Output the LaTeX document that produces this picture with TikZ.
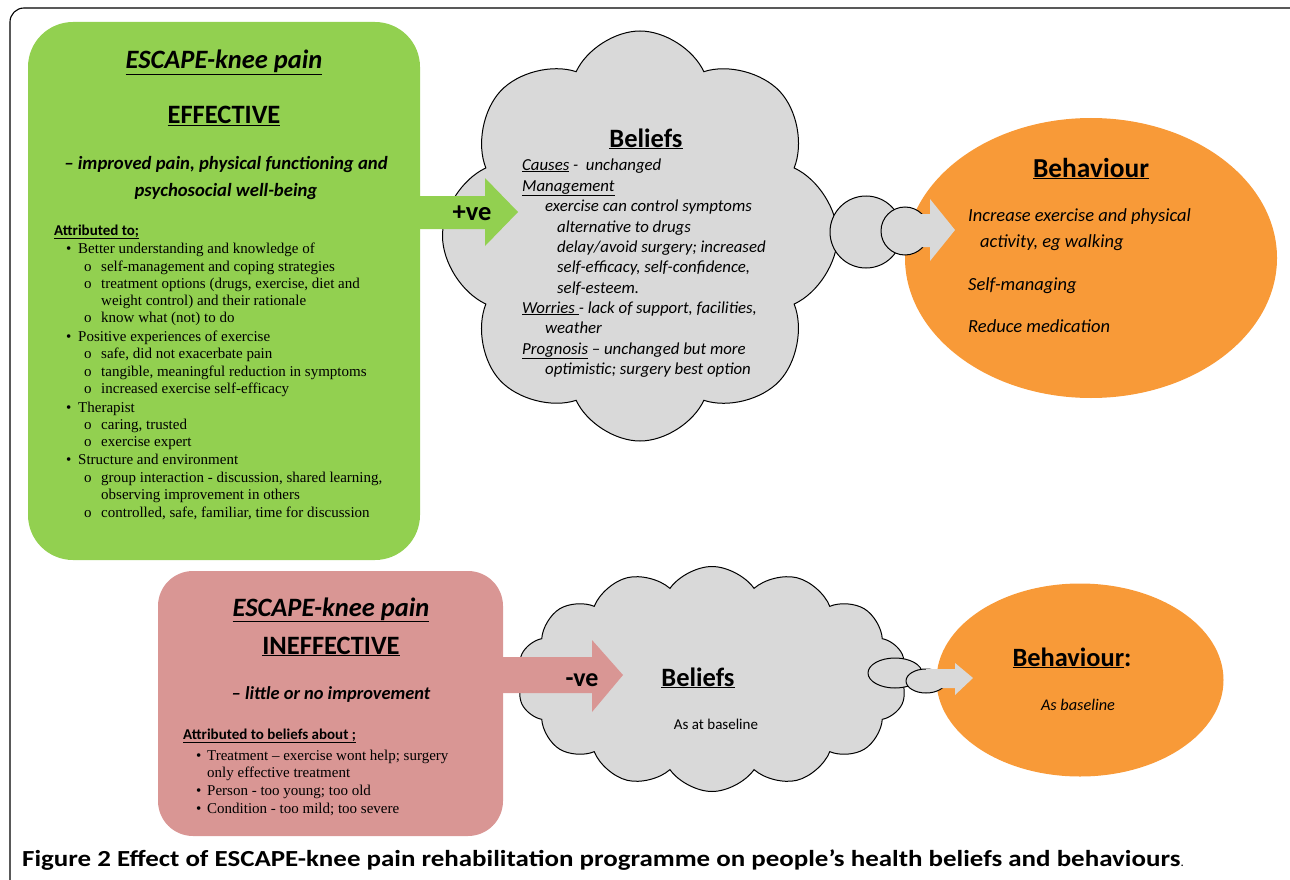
\documentclass[tikz,border=0pt]{standalone}
\usepackage{fontspec}
\usepackage{graphicx}
\setmainfont{Carlito}
\newfontfamily\serifl{Liberation Serif}
\usetikzlibrary{shapes.geometric,shapes.symbols}
\definecolor{gfill}{HTML}{92D050}
\definecolor{rfill}{HTML}{D99694}
\definecolor{ofill}{HTML}{F89A38}
\definecolor{cfill}{HTML}{D9D9D9}
\begin{document}
\begin{tikzpicture}[x=1pt,y=-1pt,
  blank/.style={inner sep=0pt, outer sep=0pt, draw=none},
  lst/.style={anchor=base west, inner sep=0pt, font=\serifl\fontsize{15}{17}\selectfont},
  cit/.style={anchor=base west, inner sep=0pt, font=\itshape\fontsize{16.8}{19}\selectfont},
  oit/.style={anchor=base west, inner sep=0pt, font=\itshape\fontsize{18.5}{21}\selectfont},
  head/.style={anchor=base, inner sep=0pt, font=\bfseries\fontsize{26.5}{30}\selectfont},
  headit/.style={anchor=base, inner sep=0pt, font=\bfseries\itshape\fontsize{26.5}{30}\selectfont},
  subit/.style={anchor=base, inner sep=0pt, font=\bfseries\itshape\fontsize{18.7}{22}\selectfont},
  attr/.style={anchor=base west, inner sep=0pt, font=\bfseries\fontsize{15}{17}\selectfont},
  cloudline/.style={draw=black, line width=1pt, fill=cfill}]
\useasboundingbox (0,0) rectangle (1290,880);
% outer frame
\draw[line width=1.1pt, rounded corners=14pt] (10,880) -- (10,8) -- (1292,8);

% ---------- top row ----------
\node[blank, rectangle, rounded corners=45pt, fill=gfill, minimum width=392pt, minimum height=538pt] (effbox) at (224,291) {};
\node[blank, ellipse, fill=ofill, minimum width=372pt, minimum height=280pt] (beh1) at (1091,258) {};
\node[cloud, cloud puffs=8, cloud puff arc=130, cloud ignores aspect, minimum width=395pt, minimum height=410pt, cloudline] (cloud1) at (640,236) {};
\node[circle, cloudline, minimum size=72pt, inner sep=0pt] (puffa) at (866,232) {};
\node[circle, cloudline, minimum size=48pt, inner sep=0pt] (puffb) at (905,231) {};
\fill[cfill] (puffb.center) ++(10,-17) -- (930,214) -- (930,199) -- (955,230) -- (930,261) -- (930,247) -- (915,247) -- cycle;
% green arrow
\fill[gfill] (effbox.east |- 0,196) -- (485,196) -- (485,178) -- (518,212) -- (485,246) -- (485,229) -- (effbox.east |- 0,229) -- cycle;
\node[anchor=base, inner sep=0pt, font=\bfseries\fontsize{26.5}{30}\selectfont] (pve) at (472,220) {+ve};

% green box text
\node[headit] (t1) at (224,69) {\underline{ESCAPE-knee pain}};
\node[head] (t2) at (224,124) {\underline{EFFECTIVE}};
\node[subit] (t3) at (226,169) {– improved pain, physical functioning and};
\node[subit] (t4) at (226,196) {psychosocial well-being};
\node[attr] (t5) at (54,235) {\underline{Attributed to;}};
\foreach \n/\yy/\lev/\txt in {
  a/249/1/{Better understanding and knowledge of},
  b/267/2/{self-management and coping strategies},
  c/284/2/{treatment options (drugs, exercise, diet and},
  d/301/3/{weight control) and their rationale},
  e/318/2/{know what (not) to do},
  f/337/1/{Positive experiences of exercise},
  g/354/2/{safe, did not exacerbate pain},
  h/372/2/{tangible, meaningful reduction in symptoms},
  i/389/2/{increased exercise self-efficacy},
  j/408/1/{Therapist},
  k/425/2/{caring, trusted},
  l/442/2/{exercise expert},
  m/460/1/{Structure and environment},
  n/478/2/{group interaction - discussion, shared learning,},
  o/495/3/{observing improvement in others},
  p/513/2/{controlled, safe, familiar, time for discussion}} {
  \ifnum\lev=1
    \node[lst] (gb\n) at (66,\yy+4.5) {\textbullet};
    \node[lst] (g\n) at (78,\yy+4.5) {\txt};
  \else\ifnum\lev=2
    \node[lst] (gb\n) at (84,\yy+4.5) {o};
    \node[lst] (g\n) at (101,\yy+4.5) {\txt};
  \else
    \node[lst] (g\n) at (101,\yy+4.5) {\txt};
  \fi\fi
}

% cloud text
\node[head] (bel1) at (646,147) {\underline{Beliefs}};
\node[cit] (c1) at (522,170) {\underline{Causes} -\ \ unchanged};
\node[cit] (c2) at (522,191) {\underline{Management}};
\node[cit] (c3) at (545,211) {exercise can control symptoms};
\node[cit] (c4) at (557,232) {alternative to drugs};
\node[cit] (c5) at (557,252) {delay/avoid surgery; increased};
\node[cit] (c6) at (557,272) {self-efficacy, self-confidence,};
\node[cit] (c7) at (557,293) {self-esteem.};
\node[cit] (c8) at (522,313) {\underline{Worries\ }- lack of support, facilities,};
\node[cit] (c9) at (545,333) {weather};
\node[cit] (c10) at (522,354) {\underline{Prognosis} – unchanged but more};
\node[cit] (c11) at (545,374) {optimistic; surgery best option};

% orange text
\node[head, font=\bfseries\fontsize{27.4}{31}\selectfont] (bh1) at (1091,177) {\underline{Behaviour}};
\node[oit] (o1) at (968,221) {Increase exercise and physical};
\node[oit] (o2) at (980,247) {activity, eg walking};
\node[oit] (o3) at (968,290) {Self-managing};
\node[oit] (o4) at (968,332) {Reduce medication};

% ---------- bottom row ----------
\node[blank, rectangle, rounded corners=35pt, fill=rfill, minimum width=345pt, minimum height=265pt] (inbox) at (330.5,703.5) {};
\node[blank, ellipse, fill=ofill, minimum width=287pt, minimum height=193pt] (beh2) at (1080,680) {};
\node[cloud, cloud puffs=14, cloud puff arc=110, cloud ignores aspect, minimum width=390pt, minimum height=225pt, cloudline] (cloud2) at (712,679) {};
\node[ellipse, cloudline, minimum width=54pt, minimum height=30pt, inner sep=0pt] (tla) at (895,673) {};
\node[ellipse, cloudline, minimum width=40pt, minimum height=24pt, inner sep=0pt] (tlb) at (926,681) {};
\fill[cfill] (tlb.center) ++(0,-12) -- (955,669) -- (955,663) -- (973,678) -- (955,695) -- (955,688) -- (926,688) -- cycle;
% red arrow
\fill[rfill] (inbox.east |- 0,657) -- (592,657) -- (592,640) -- (623,675) -- (592,712) -- (592,693) -- (inbox.east |- 0,693) -- cycle;
\node[anchor=base, inner sep=0pt, font=\bfseries\fontsize{26}{30}\selectfont] (nve) at (582,686) {-ve};

\node[headit] (r1) at (331,616) {\underline{ESCAPE-knee pain}};
\node[head] (r2) at (331,654) {\underline{INEFFECTIVE}};
\node[subit, font=\bfseries\itshape\fontsize{18.4}{22}\selectfont] (r3) at (331,699) {– little or no improvement};
\node[attr] (r4) at (183,739) {\underline{Attributed to beliefs about ;}};
\node[lst] (rb1) at (196,760.5) {\textbullet};
\node[lst] (rl1) at (207,760.5) {Treatment – exercise wont help; surgery};
\node[lst] (rl2) at (207,777.5) {only effective treatment};
\node[lst] (rb3) at (196,795.5) {\textbullet};
\node[lst] (rl3) at (207,795.5) {Person - too young; too old};
\node[lst] (rb4) at (196,813.5) {\textbullet};
\node[lst] (rl4) at (207,813.5) {Condition - too mild; too severe};

\node[head] (bel2) at (698,686) {\underline{Beliefs}};
\node[anchor=base, inner sep=0pt, font=\fontsize{15}{18}\selectfont] (asb) at (716,729) {As at baseline};
\node[anchor=base, inner sep=0pt, font=\bfseries\fontsize{26.4}{30}\selectfont] (bh2) at (1072,666) {\underline{Behaviour}:};
\node[anchor=base, inner sep=0pt, font=\itshape\fontsize{16.3}{19}\selectfont] (asb2) at (1078,710) {As baseline};

% caption
\node[anchor=base west, inner sep=0pt, font=\bfseries\fontsize{23}{26}\selectfont] (cap) at (22,866) {\resizebox{1158pt}{\height}{Figure 2 Effect of ESCAPE-knee pain rehabilitation programme on people’s health beliefs and behaviours}};
\node[anchor=base west, inner sep=0pt, font=\fontsize{13}{15}\selectfont] (capdot) at (cap.base east) {.};
\end{tikzpicture}
\end{document}
